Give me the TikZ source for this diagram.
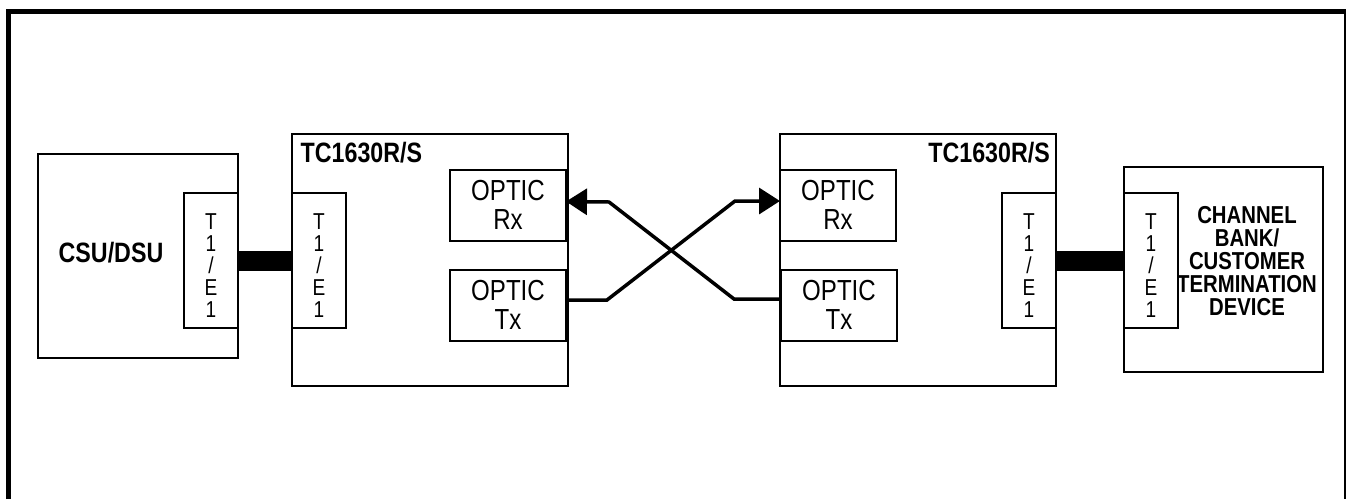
\documentclass[tikz,border=0pt]{standalone}
\usepackage{fontspec}
\setmainfont{Liberation Sans}[FakeStretch=0.83]
\usetikzlibrary{arrows.meta}
\tikzstyle{diagram} = [x = 1pt, y = -1pt]
\tikzstyle{frameLine} = [line width = 5pt]
\tikzstyle{boxStyle} = [draw, line width = 2pt, inner sep = 0pt, outer sep = 0pt]
\tikzstyle{portStyle} = [boxStyle, minimum width = 54pt, minimum height = 135pt]
\tikzstyle{portText} = [inner sep = 0pt, align = center, font = \fontsize{23}{22}\selectfont]
\tikzstyle{opticStyle} = [boxStyle, minimum width = 116pt, minimum height = 71pt, align = center, font = \fontsize{29}{29}\selectfont]
\tikzstyle{deviceText} = [inner sep = 0pt, align = center, font = \fontsize{28}{30}\selectfont\bfseries]
\tikzstyle{busLine} = [line width = 20pt]
\tikzstyle{fiberLine} = [line width = 3.5pt, line join = miter, -{Triangle[length = 21pt, width = 26pt]}]
\newcommand{\portBox}[3]{
  \node [portStyle] (#1) at (#2, #3) {};
  \node [portText] (#1Text) at ([yshift = -5pt]#1.center) {T\\1\\/\\E\\1};
}
\newcommand{\opticBox}[4]{\node [opticStyle] (#1) at (#2, #3) {OPTIC\\#4};}
\newcommand{\unitBox}[3]{\node [boxStyle, minimum width = 276pt, minimum height = 252pt] (#1) at (#2, #3) {};}

\begin{document}
\begin{tikzpicture}[diagram]
  \useasboundingbox (0, 0) rectangle (1346, 499);
  % outer frame, open at the bottom
  \draw [frameLine] (8.5, 499) -- (8.5, 11) -- (1346, 11) -- (1346, 499);

  % customer side
  \node [boxStyle, minimum width = 200pt, minimum height = 204pt] (csuBox) at (138, 256) {};
  \node [deviceText] (csuLabel) at (111, 253) {CSU/DSU};
  \portBox{csuPort}{211}{260.5}

  % first TC1630R/S
  \unitBox{tcLeft}{429.5}{260}
  \node [deviceText, anchor = base west] (tcLeftLabel) at ([xshift = 9pt, yshift = -28pt]tcLeft.north west) {TC1630R/S};
  \portBox{tcLeftPort}{319}{260.5}
  \opticBox{rxLeft}{508}{205}{Rx}
  \opticBox{txLeft}{508}{305}{Tx}

  % second TC1630R/S
  \unitBox{tcRight}{918}{260}
  \node [deviceText, anchor = base east] (tcRightLabel) at ([xshift = -6pt, yshift = -28pt]tcRight.north east) {TC1630R/S};
  \opticBox{rxRight}{838}{205}{Rx}
  \opticBox{txRight}{839}{305}{Tx}
  \portBox{tcRightPort}{1029}{260.5}

  % far end equipment
  \node [boxStyle, minimum width = 199pt, minimum height = 205pt] (chanBox) at (1223.5, 269.5) {};
  \portBox{chanPort}{1151}{260.5}
  \node [deviceText, font = \fontsize{24.5}{23}\selectfont\bfseries] (chanLabel) at (1247, 261.5) {CHANNEL\\BANK/\\CUSTOMER\\TERMINATION\\DEVICE};

  % T1/E1 links
  \draw [busLine] (csuPort.east) -- (tcLeftPort.west);
  \draw [busLine] (tcRightPort.east) -- (chanPort.west);

  % crossed fibres
  \draw [fiberLine] ([yshift = 6pt]txRight.west) -- ++(-47, 0) -- ++(-125, -97) -- ([yshift = 3.5pt]rxLeft.east);
  \draw [fiberLine] ([yshift = 5pt]txLeft.east) -- ++(41, 0) -- ++(128, -99) -- ([yshift = 4pt]rxRight.west);
\end{tikzpicture}
\end{document}
